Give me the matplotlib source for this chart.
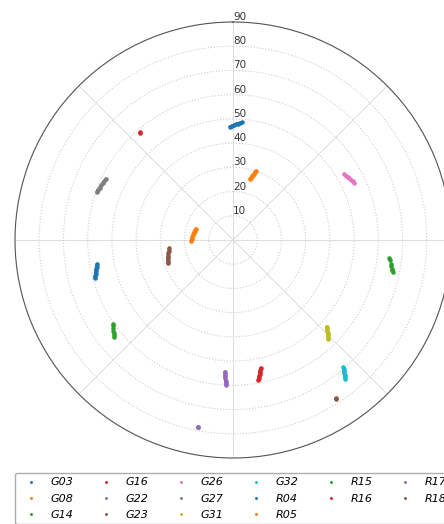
import numpy as np
import matplotlib
matplotlib.use("Agg")
import matplotlib.pyplot as plt

# Satellite tracks: azimuth (deg, clockwise from north) and radial value
g03_az = [-1.5, -0.5, 0.5, 1.5, 2.5, 3.5, 4.5]
g03_r = [46.8, 47.1, 47.4, 47.8, 48.1, 48.4, 48.7]
g08_az = [15.6, 16.1, 16.6, 17.0, 17.5, 17.9, 18.4]
g08_r = [26.1, 26.8, 27.4, 28.0, 28.7, 29.3, 30.0]
g14_az = [96.5, 97.3, 98.6, 99.4, 100.2, 100.7, 101.2]
g14_r = [64.8, 65.2, 65.9, 66.3, 66.7, 67.0, 67.3]
g16_az = [167.8, 168.1, 168.5, 168.8, 169.1, 169.5, 169.8]
g16_r = [54.2, 55.0, 55.7, 56.5, 57.2, 58.0, 58.7]
g22_az = [183.5, 183.4, 183.3, 183.2, 183.0, 182.9, 182.8]
g22_r = [54.5, 55.4, 56.3, 57.2, 58.1, 59.0, 59.9]
g23_az = [262.6, 260.6, 258.5, 256.5, 254.5, 252.4, 250.4]
g23_r = [26.5, 26.8, 27.2, 27.5, 27.9, 28.2, 28.6]
g26_az = [59.4, 60.3, 61.2, 62.1, 62.9, 63.8, 64.7]
g26_r = [53.4, 53.7, 54.0, 54.3, 54.7, 55.0, 55.3]
g27_az = [295.7, 294.6, 293.6, 292.5, 291.4, 290.4, 289.3]
g27_r = [58.2, 58.4, 58.7, 58.9, 59.1, 59.4, 59.6]
g31_az = [132.8, 133.4, 133.9, 134.5, 135.0, 135.6, 136.1]
g31_r = [52.7, 53.4, 54.0, 54.7, 55.4, 56.0, 56.7]
g32_az = [139.1, 139.4, 139.8, 140.1, 140.4, 140.8, 141.1]
g32_r = [69.5, 70.2, 70.9, 71.6, 72.3, 73.0, 73.7]
r04_az = [259.9, 259.0, 258.1, 257.2, 256.3, 255.4, 254.5]
r04_r = [57.0, 57.4, 57.7, 58.1, 58.4, 58.8, 59.1]
r05_az = [286.4, 283.4, 280.3, 277.3, 274.3, 271.2, 268.2]
r05_r = [16.1, 16.3, 16.5, 16.7, 16.9, 17.1, 17.3]
r15_az = [235.1, 234.6, 233.6, 232.8, 232.1, 231.4, 230.8]
r15_r = [60.6, 60.9, 61.5, 62.0, 62.4, 62.8, 63.2]
r16_az = [319.1, 319.2]
r16_r = [58.6, 58.7]
r17_az = [190.5, 190.6]
r17_r = [78.6, 78.7]
r18_az = [147.0, 147.1]
r18_r = [78.0, 78.1]

labels = ["G03", "G08", "G14", "G16", "G22", "G23", "G26", "G27",
          "G31", "G32", "R04", "R05", "R15", "R16", "R17", "R18"]
tracks = [(g03_az, g03_r), (g08_az, g08_r), (g14_az, g14_r), (g16_az, g16_r),
          (g22_az, g22_r), (g23_az, g23_r), (g26_az, g26_r), (g27_az, g27_r),
          (g31_az, g31_r), (g32_az, g32_r), (r04_az, r04_r), (r05_az, r05_r),
          (r15_az, r15_r), (r16_az, r16_r), (r17_az, r17_r), (r18_az, r18_r)]
# tracks recorded with gaps are drawn as loose dots only
dotted = {"G14", "R15"}

radial_ticks = [10, 20, 30, 40, 50, 60, 70, 80, 90]
theta_ticks = [0, 45, 90, 135, 180, 225, 270, 315]

W, H = 444, 524
fig = plt.figure(figsize=(W / 100, H / 100), dpi=100)
size = 436
ax = fig.add_axes([15 / W, 66 / H, size / W, size / H], projection="polar")
ax.set_theta_zero_location("N")
ax.set_theta_direction(-1)

for (az, rr), lab in zip(tracks, labels):
    ls = "none" if lab in dotted else "-"
    ax.plot(np.deg2rad(az), rr, marker=".", linestyle=ls, linewidth=2.3,
            markersize=4.5, solid_capstyle="round", label=lab)

ax.set_rlim(0, 90)
ax.set_rgrids(radial_ticks, labels=[str(v) for v in radial_ticks], fontsize=7.5)
ax.set_rlabel_position(0)
ax.set_thetagrids(theta_ticks, labels=[""] * len(theta_ticks))
ax.yaxis.grid(True, color="#cccccc", linestyle=":", linewidth=0.8)
ax.xaxis.grid(True, color="#dddddd", linestyle="-", linewidth=0.7)
ax.spines["polar"].set_color("#555555")
ax.spines["polar"].set_linewidth(0.8)
for t in ax.get_yticklabels():
    t.set_color("#333333")

leg = fig.legend(loc="upper left", bbox_to_anchor=(15 / W, 1 - 473 / H),
                 ncol=6, markerscale=0.5, labelspacing=0.55, columnspacing=1.9,
                 prop={"style": "italic", "size": 8}, fancybox=True,
                 edgecolor="#999999", borderaxespad=0)
for h in leg.get_lines():
    h.set_linestyle("none")

fig.savefig("out.png", dpi=100)
